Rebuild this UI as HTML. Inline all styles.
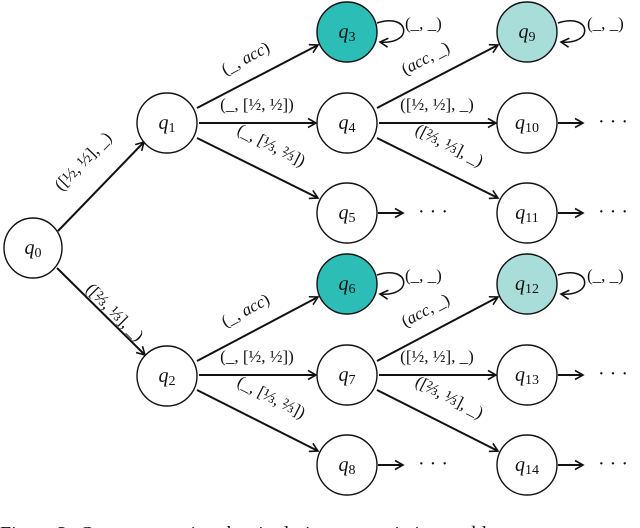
<!DOCTYPE html>
<html><head><meta charset="utf-8"><style>
html,body{margin:0;padding:0;background:#fff;width:640px;height:528px;overflow:hidden}
svg text{font-family:"Liberation Serif",serif;fill:#111}
.q{font-style:italic;font-size:20px}
.l{font-size:17px}
</style></head><body>
<svg width="640" height="528" viewBox="0 0 640 528" xmlns="http://www.w3.org/2000/svg">
<defs><marker id="a" markerWidth="12" markerHeight="12" refX="9" refY="6" orient="auto" markerUnits="userSpaceOnUse">
<path d="M1,1.5 L9,6 L1,10.5" fill="none" stroke="#111" stroke-width="1.6"/></marker></defs>
<g stroke="#111" stroke-width="2" fill="none" marker-end="url(#a)">
<line x1="58" y1="231" x2="144" y2="142"/>
<line x1="57" y1="268" x2="145" y2="355"/>
<line x1="197" y1="108" x2="318" y2="45"/>
<line x1="199" y1="123" x2="316" y2="123"/>
<line x1="197" y1="138" x2="318" y2="198"/>
<line x1="377" y1="108" x2="498" y2="45"/>
<line x1="379" y1="123" x2="496" y2="123"/>
<line x1="377" y1="138" x2="498" y2="198"/>
<line x1="197" y1="361" x2="318" y2="297"/>
<line x1="199" y1="375" x2="316" y2="375"/>
<line x1="197" y1="390" x2="318" y2="451"/>
<line x1="377" y1="361" x2="498" y2="297"/>
<line x1="379" y1="375" x2="496" y2="375"/>
<line x1="377" y1="390" x2="498" y2="451"/>
<line x1="378" y1="213" x2="403" y2="213"/>
<line x1="378" y1="465" x2="403" y2="465"/>
<line x1="558" y1="123" x2="583" y2="123"/>
<line x1="558" y1="213" x2="583" y2="213"/>
<line x1="558" y1="375" x2="583" y2="375"/>
<line x1="558" y1="465" x2="583" y2="465"/>
</g>
<g stroke="#111" stroke-width="1.5" fill="none" marker-end="url(#a)">
<path d="M377,23 C410,12 414,45 380,42"/>
<path d="M558,23 C591,12 595,45 561,42"/>
<path d="M377,275 C410,264 414,297 380,294"/>
<path d="M558,275 C591,264 595,297 561,294"/>
</g>
<g stroke="#111" stroke-width="1.4">
<ellipse cx="33" cy="248" rx="29" ry="30" fill="#fff"/>
<ellipse cx="167" cy="123" rx="30" ry="30" fill="#fff"/>
<ellipse cx="167" cy="376" rx="30" ry="30" fill="#fff"/>
<ellipse cx="347" cy="32" rx="30" ry="30" fill="#2bbdb6"/>
<ellipse cx="347" cy="123" rx="30" ry="30" fill="#fff"/>
<ellipse cx="347" cy="213" rx="30" ry="30" fill="#fff"/>
<ellipse cx="527" cy="32" rx="30" ry="30" fill="#a9ddd9"/>
<ellipse cx="527" cy="123" rx="30" ry="30" fill="#fff"/>
<ellipse cx="527" cy="213" rx="30" ry="30" fill="#fff"/>
<ellipse cx="347" cy="284" rx="30" ry="30" fill="#2bbdb6"/>
<ellipse cx="347" cy="375" rx="30" ry="30" fill="#fff"/>
<ellipse cx="347" cy="465" rx="30" ry="30" fill="#fff"/>
<ellipse cx="527" cy="284" rx="30" ry="30" fill="#a9ddd9"/>
<ellipse cx="527" cy="375" rx="30" ry="30" fill="#fff"/>
<ellipse cx="527" cy="465" rx="30" ry="30" fill="#fff"/>
</g>
<g class="q" text-anchor="middle">
<text x="33" y="254">q<tspan font-size="14" font-style="normal" dy="3">0</tspan></text>
<text x="167" y="129">q<tspan font-size="14" font-style="normal" dy="3">1</tspan></text>
<text x="167" y="382">q<tspan font-size="14" font-style="normal" dy="3">2</tspan></text>
<text x="347" y="38">q<tspan font-size="14" font-style="normal" dy="3">3</tspan></text>
<text x="347" y="129">q<tspan font-size="14" font-style="normal" dy="3">4</tspan></text>
<text x="347" y="219">q<tspan font-size="14" font-style="normal" dy="3">5</tspan></text>
<text x="527" y="38">q<tspan font-size="14" font-style="normal" dy="3">9</tspan></text>
<text x="527" y="129">q<tspan font-size="14" font-style="normal" dy="3">10</tspan></text>
<text x="527" y="219">q<tspan font-size="14" font-style="normal" dy="3">11</tspan></text>
<text x="347" y="290">q<tspan font-size="14" font-style="normal" dy="3">6</tspan></text>
<text x="347" y="381">q<tspan font-size="14" font-style="normal" dy="3">7</tspan></text>
<text x="347" y="471">q<tspan font-size="14" font-style="normal" dy="3">8</tspan></text>
<text x="527" y="290">q<tspan font-size="14" font-style="normal" dy="3">12</tspan></text>
<text x="527" y="381">q<tspan font-size="14" font-style="normal" dy="3">13</tspan></text>
<text x="527" y="471">q<tspan font-size="14" font-style="normal" dy="3">14</tspan></text>
</g>
<g font-size="20">
<text x="418" y="218">· · ·</text><text x="418" y="470">· · ·</text>
<text x="598" y="128">· · ·</text><text x="598" y="218">· · ·</text>
<text x="598" y="380">· · ·</text><text x="598" y="470">· · ·</text>
</g>
<g class="l">
<text x="405" y="29">(_, _)</text><text x="587" y="29">(_, _)</text>
<text x="405" y="281">(_, _)</text><text x="587" y="281">(_, _)</text>
</g>
<g class="l" text-anchor="middle">
<text transform="translate(87,165) rotate(-46)">([½, ½], _)</text>
<text transform="translate(111,316) rotate(45)">([⅔, ⅓], _)</text>
<text transform="translate(248,63) rotate(-28)">(_, <tspan font-style="italic">acc</tspan>)</text>
<text x="257" y="110">(_, [½, ½])</text>
<text transform="translate(269,150) rotate(27)">(_, [⅓, ⅔])</text>
<text transform="translate(428,63) rotate(-28)">(<tspan font-style="italic">acc</tspan>, _)</text>
<text x="437" y="110">([½, ½], _)</text>
<text transform="translate(447,150) rotate(27)">([⅔, ⅓], _)</text>
<text transform="translate(248,315) rotate(-28)">(_, <tspan font-style="italic">acc</tspan>)</text>
<text x="257" y="362">(_, [½, ½])</text>
<text transform="translate(269,402) rotate(27)">(_, [⅓, ⅔])</text>
<text transform="translate(428,315) rotate(-28)">(<tspan font-style="italic">acc</tspan>, _)</text>
<text x="437" y="362">([½, ½], _)</text>
<text transform="translate(447,402) rotate(27)">([⅔, ⅓], _)</text>
</g>
<text x="0" y="540" font-size="20">Figure 2:  <tspan font-style="italic">G</tspan> ... representing the single-issue negotiation problem</text>
</svg>
</body></html>
